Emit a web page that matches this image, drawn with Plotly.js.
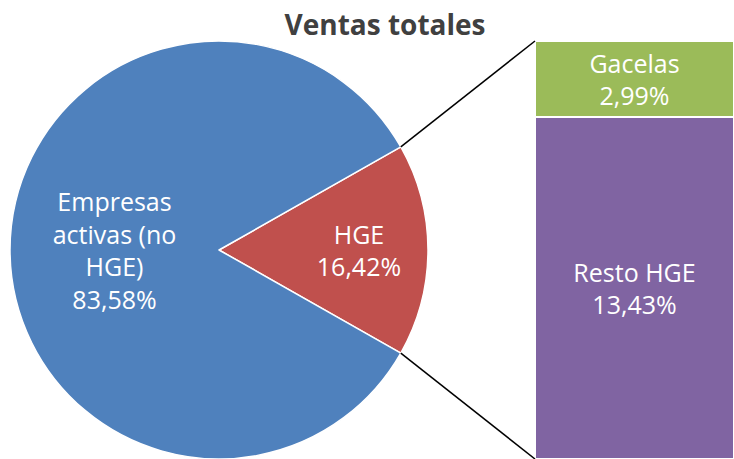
<!DOCTYPE html>
<html>
<head>
<meta charset="utf-8">
<script src="https://cdn.plot.ly/plotly-3.0.1.min.js"></script>
<style>html,body{margin:0;padding:0;background:#fff}#chart{width:734px;height:459px}</style>
</head>
<body>
<div id="chart"></div>
<script>
// ---- data ----
const pieCategories = ['HGE', 'Empresas activas (no HGE)'];
const pieLabelText = ['HGE', 'Empresas<br>activas (no<br>HGE)'];
const pieValues = [16.42, 83.58];
const barCategories = ['Resto HGE', 'Gacelas'];
const barValues = [13.43, 2.99];

// ---- style / layout ----
const W = 734, H = 459;
const FONT = '"Open Sans", sans-serif';
const pieColors = ['#C0504D', '#4F81BD'];
const barColors = ['#8064A2', '#9BBB59'];
const pieDom = {x: [10 / W, 428 / W], y: [0, 418 / H]};
const barDom = {x: [535 / W, 1], y: [0, 418 / H]};

const fmt = v => v.toFixed(2).replace('.', ',') + '%';
const total = pieValues.reduce((a, b) => a + b, 0);
const hgeShare = pieValues[0] / total;
const barTotal = barValues.reduce((a, b) => a + b, 0);

const traces = [{
  type: 'pie',
  labels: pieCategories,
  values: pieValues,
  text: pieValues.map((v, i) => pieLabelText[i] + '<br>' + fmt(v)),
  textinfo: 'text',
  textposition: 'inside',
  insidetextorientation: 'horizontal',
  sort: false,
  direction: 'clockwise',
  rotation: 90 - hgeShare * 180,
  marker: {colors: pieColors, line: {color: '#ffffff', width: 1.5}},
  textfont: {family: FONT, size: 25, color: '#ffffff'},
  domain: pieDom,
  showlegend: false,
  hoverinfo: 'label+percent'
}];

barCategories.forEach((c, i) => {
  traces.push({
    type: 'bar',
    name: c,
    x: ['HGE'],
    y: [barValues[i]],
    text: [c + '<br>' + fmt(barValues[i])],
    textposition: 'inside',
    insidetextanchor: 'middle',
    constraintext: 'none',
    textfont: {family: FONT, size: 25, color: '#ffffff'},
    marker: {color: barColors[i], line: {color: '#ffffff', width: 1.5}},
    xaxis: 'x', yaxis: 'y',
    showlegend: false,
    hoverinfo: 'name+y'
  });
});

// connector lines from pie slice edge to bar corners
const r = (pieDom.x[1] - pieDom.x[0]) * W / 2;
const cx = (pieDom.x[0] + pieDom.x[1]) / 2 * W;
const cy = H - (pieDom.y[0] + pieDom.y[1]) / 2 * H;
const a = hgeShare * Math.PI;
const px = cx + r * Math.cos(a);
const pyTop = cy - r * Math.sin(a);
const pyBot = cy + r * Math.sin(a);
const shapes = [
  {type: 'line', xref: 'paper', yref: 'paper', x0: px / W, y0: 1 - pyTop / H, x1: barDom.x[0], y1: barDom.y[1], line: {color: '#000', width: 1.5}},
  {type: 'line', xref: 'paper', yref: 'paper', x0: px / W, y0: 1 - pyBot / H, x1: barDom.x[0], y1: barDom.y[0], line: {color: '#000', width: 1.5}}
];

const layout = {
  width: W, height: H,
  margin: {l: 0, r: 0, t: 0, b: 0},
  paper_bgcolor: '#fff', plot_bgcolor: 'rgba(0,0,0,0)',
  title: {text: '<b>Ventas totales</b>', x: 385 / W, xanchor: 'center', y: 1 - 25 / H, yanchor: 'middle',
          font: {family: FONT, size: 28, color: '#404040'}},
  barmode: 'stack', bargap: 0,
  xaxis: {domain: barDom.x, visible: false, range: [-0.5, 0.5], fixedrange: true},
  yaxis: {domain: barDom.y, visible: false, range: [0, barTotal], fixedrange: true},
  shapes: shapes
};

Plotly.newPlot('chart', traces, layout, {displayModeBar: false, staticPlot: true});
</script>
</body>
</html>
